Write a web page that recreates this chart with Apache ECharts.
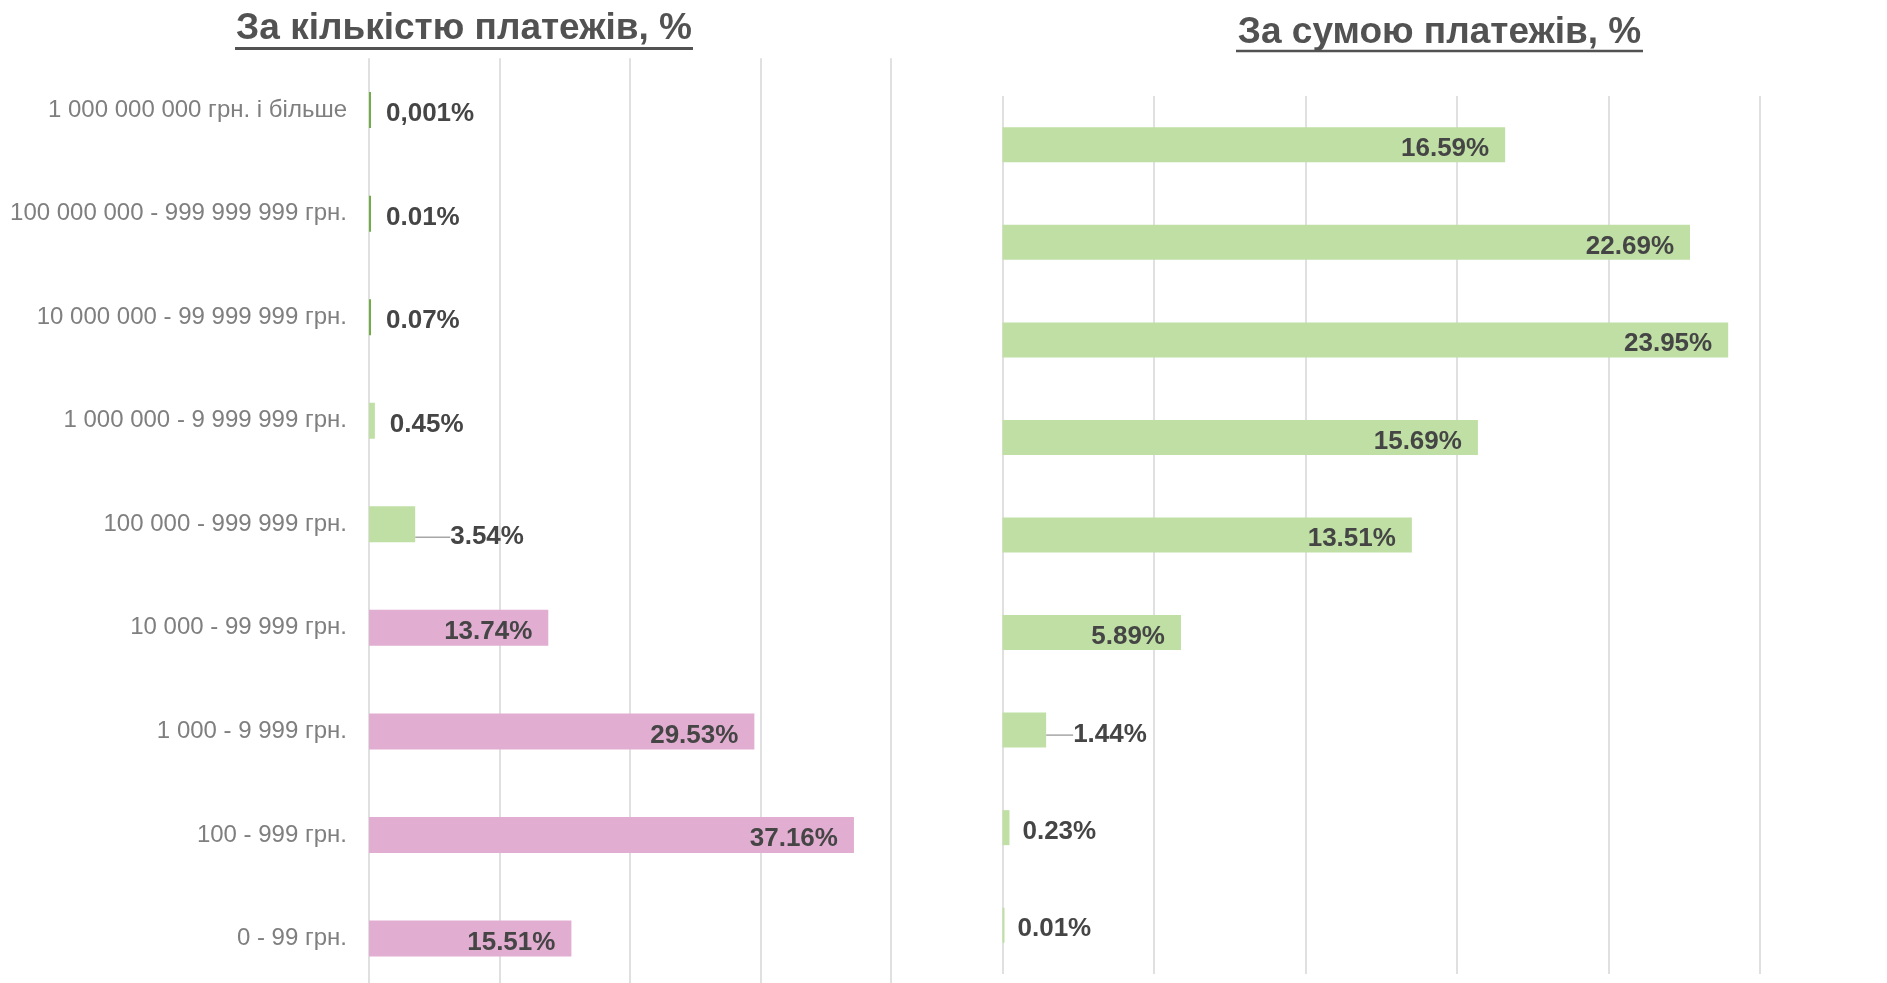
<!DOCTYPE html>
<html>
<head>
<meta charset="utf-8">
<script src="https://cdn.jsdelivr.net/npm/echarts@6/dist/echarts.min.js"></script>
<style>
html,body{margin:0;padding:0;background:#fff;}
#chart{width:1887px;height:983px;}
</style>
</head>
<body>
<div id="chart"></div>
<script>
// ---- data (top to bottom) ----
const categories = [
  '1 000 000 000 грн. і більше',
  '100 000 000 - 999 999 999 грн.',
  '10 000 000 - 99 999 999 грн.',
  '1 000 000 - 9 999 999 грн.',
  '100 000 - 999 999 грн.',
  '10 000 - 99 999 грн.',
  '1 000 - 9 999 грн.',
  '100 - 999 грн.',
  '0 - 99 грн.'
];
const countValues = [0.001, 0.01, 0.07, 0.45, 3.54, 13.74, 29.53, 37.16, 15.51];
const countLabels = ['0,001%', '0.01%', '0.07%', '0.45%', '3.54%', '13.74%', '29.53%', '37.16%', '15.51%'];
const sumValues = [16.59, 22.69, 23.95, 15.69, 13.51, 5.89, 1.44, 0.23, 0.01];
const sumLabels = ['16.59%', '22.69%', '23.95%', '15.69%', '13.51%', '5.89%', '1.44%', '0.23%', '0.01%'];
const countTicks = [0, 10, 20, 30, 40];
const sumTicks = [0, 5, 10, 15, 20, 25];
const titleCount = 'За кількістю платежів, %';
const titleSum = 'За сумою платежів, %';

// ---- styles ----
const FONT = '"Liberation Sans", Arial, sans-serif';
const PINK = '#E1ADD1';
const GREEN = '#BFDFA4';
const DARK_GREEN = '#70AD47';
const LABEL_COLOR = '#454545';
const TITLE_COLOR = '#525252';
const GRID_COLOR = '#e0e0e0';

function buildItems(values, colorFn, insideMin, outsideDistance) {
  return values.map(function (v, i) {
    const inside = v >= insideMin;
    const leader = !inside && v >= 1;
    const item = {
      value: v,
      itemStyle: { color: colorFn(v, i) },
      label: inside
        ? { position: 'insideRight', distance: 16 }
        : { position: 'right', distance: outsideDistance }
    };
    if (leader) {
      item.labelLine = { show: true, lineStyle: { color: '#a6a6a6', width: 1.5 } };
    }
    return item;
  });
}

const countItems = buildItems(countValues, function (v, i) {
  if (v < 0.1) return DARK_GREEN;
  return i < 5 ? GREEN : PINK;
}, 5, 15);
const sumItems = buildItems(sumValues, function () { return GREEN; }, 5, 13);

function labelStyle(texts) {
  return {
    show: true,
    formatter: function (p) { return texts[p.dataIndex]; },
    fontFamily: FONT,
    fontWeight: 'bold',
    fontSize: 26,
    color: LABEL_COLOR
  };
}

// shift all labels slightly down; move leader-line labels further out
function labelShift(values, dx, dy) {
  return function (p) {
    const v = values[p.dataIndex];
    if (v >= 1 && v < 5) return { dx: dx, dy: dy };
    return { dy: 4 };
  };
}

const chart = echarts.init(document.getElementById('chart'), null, { renderer: 'canvas' });

const option = {
  animation: false,
  backgroundColor: '#ffffff',
  grid: [
    { left: 369, top: 58.3, width: 522, height: 932, outerBoundsMode: 'none', containLabel: false },
    { left: 1002.5, top: 96, width: 757.5, height: 878, outerBoundsMode: 'none', containLabel: false }
  ],
  xAxis: [
    {
      gridIndex: 0, type: 'value',
      min: countTicks[0], max: countTicks[countTicks.length - 1],
      interval: countTicks[1] - countTicks[0],
      axisLabel: { show: false }, axisLine: { show: false }, axisTick: { show: false },
      splitLine: { show: true, lineStyle: { color: GRID_COLOR, width: 2 } }
    },
    {
      gridIndex: 1, type: 'value',
      min: sumTicks[0], max: sumTicks[sumTicks.length - 1],
      interval: sumTicks[1] - sumTicks[0],
      axisLabel: { show: false }, axisLine: { show: false }, axisTick: { show: false },
      splitLine: { show: true, lineStyle: { color: GRID_COLOR, width: 2 } }
    }
  ],
  yAxis: [
    {
      gridIndex: 0, type: 'category', data: categories, inverse: true,
      axisLine: { show: false }, axisTick: { show: false },
      axisLabel: { margin: 22, fontSize: 24, color: '#7f7f7f', fontFamily: FONT }
    },
    {
      gridIndex: 1, type: 'category', data: categories, inverse: true,
      axisLine: { show: false }, axisTick: { show: false },
      axisLabel: { show: false }
    }
  ],
  series: [
    {
      type: 'bar', xAxisIndex: 0, yAxisIndex: 0,
      data: countItems, barWidth: 36, barMinHeight: 2,
      label: labelStyle(countLabels),
      labelLayout: labelShift(countValues, 20, 13)
    },
    {
      type: 'bar', xAxisIndex: 1, yAxisIndex: 1,
      data: sumItems, barWidth: 35, barMinHeight: 2,
      label: labelStyle(sumLabels),
      labelLayout: labelShift(sumValues, 14, 5)
    }
  ],
  graphic: [
    {
      type: 'text', x: 464, y: 29,
      style: { text: titleCount, font: 'bold 37px ' + FONT, fill: TITLE_COLOR, align: 'center', verticalAlign: 'middle' }
    },
    {
      type: 'line', shape: { x1: 235, y1: 48.5, x2: 693, y2: 48.5 },
      style: { stroke: TITLE_COLOR, lineWidth: 3 }
    },
    {
      type: 'text', x: 1439.5, y: 33,
      style: { text: titleSum, font: 'bold 37px ' + FONT, fill: TITLE_COLOR, align: 'center', verticalAlign: 'middle' }
    },
    {
      type: 'line', shape: { x1: 1236, y1: 51, x2: 1643, y2: 51 },
      style: { stroke: TITLE_COLOR, lineWidth: 2.5 }
    }
  ]
};

chart.setOption(option);
</script>
</body>
</html>
